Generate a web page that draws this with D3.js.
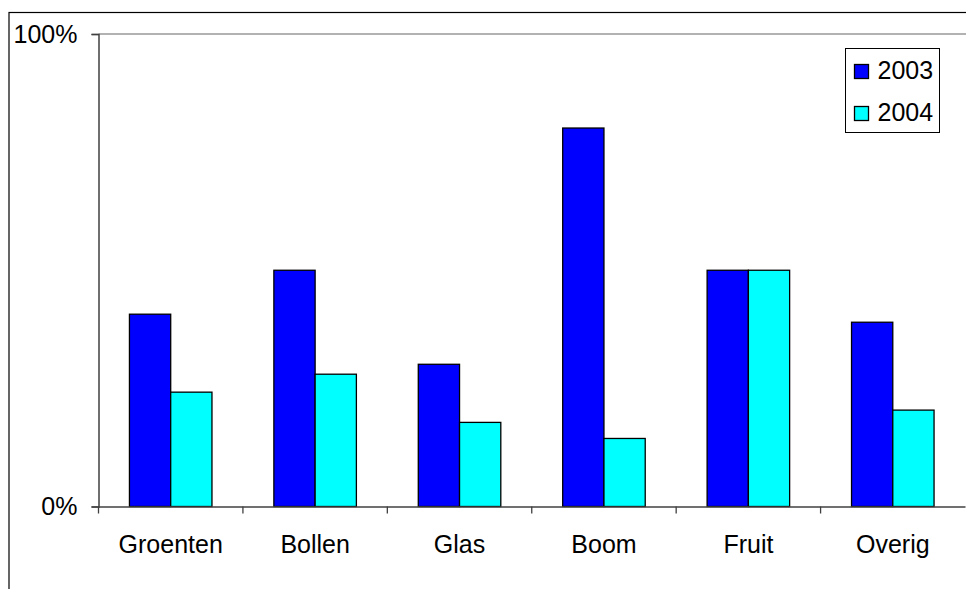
<!DOCTYPE html>
<html>
<head>
<meta charset="utf-8">
<script src="https://cdn.jsdelivr.net/npm/d3@7"></script>
<style>
  body { margin: 0; background: #fff; }
  svg { display: block; }
</style>
</head>
<body>
<div class="chart"></div>
<script>
// data
const categories = ['Groenten', 'Bollen', 'Glas', 'Boom', 'Fruit', 'Overig'];
const seriesNames = ['2003', '2004'];
const values2003 = [0.407, 0.50, 0.301, 0.801, 0.50, 0.390];
const values2004 = [0.242, 0.28, 0.178, 0.144, 0.50, 0.204];
const yTicks = [0, 1];

const width = 966;
const height = 589;
const plot = {left: 98.5, right: 965, top: 34, bottom: 506.5};
const colors = ['#0000ff', '#00ffff'];
const font = 'Arial, "Liberation Sans", sans-serif';

const rows = categories.map((c, i) => ({cat: c, vals: [values2003[i], values2004[i]]}));

const svg = d3.select('.chart').append('svg')
  .attr('width', width).attr('height', height);

// outer chart frame
svg.append('rect')
  .attr('x', 9).attr('y', 12.5)
  .attr('width', width + 20).attr('height', height + 20)
  .attr('fill', 'none').attr('stroke', '#000').attr('stroke-width', 1.2);

const x = d3.scaleBand().domain(categories).range([plot.left, plot.right]);
// excel gap width 150% -> bar = band / 3.5
const barW = x.bandwidth() / 3.5;
const xs = d3.scaleBand().domain(seriesNames)
  .range([barW * 0.75, barW * 2.75]);
const y = d3.scaleLinear().domain([0, 1]).range([plot.bottom, plot.top]);

// gridline at 100%
svg.append('line')
  .attr('x1', plot.left).attr('x2', width)
  .attr('y1', y(1)).attr('y2', y(1))
  .attr('stroke', '#999').attr('stroke-width', 1.5);

// bars
const groups = svg.selectAll('.grp').data(rows).enter()
  .append('g').attr('class', 'grp')
  .attr('transform', d => `translate(${x(d.cat)},0)`);
groups.selectAll('rect')
  .data(d => d.vals.map((v, j) => ({name: seriesNames[j], v: v, j: j})))
  .enter().append('rect')
  .attr('x', d => xs(d.name))
  .attr('width', xs.bandwidth())
  .attr('y', d => y(d.v))
  .attr('height', d => y(0) - y(d.v))
  .attr('fill', d => colors[d.j])
  .attr('stroke', '#000').attr('stroke-width', 1.3);

// y axis
const yAxis = svg.append('g')
  .attr('transform', `translate(${plot.left},0)`)
  .call(d3.axisLeft(y).tickValues(yTicks).tickFormat(d3.format('.0%'))
    .tickSize(7).tickPadding(14));
yAxis.select('.domain').attr('stroke', '#404040').attr('stroke-width', 1.5);
yAxis.selectAll('.tick line').attr('stroke', '#404040').attr('stroke-width', 1.3);
yAxis.selectAll('text').attr('font-family', font).attr('font-size', 25)
  .attr('fill', '#000');

// x axis
const xAxis = svg.append('g')
  .attr('transform', `translate(0,${plot.bottom})`)
  .call(d3.axisBottom(x).tickSize(0).tickPadding(29));
xAxis.select('.domain').attr('stroke', '#404040').attr('stroke-width', 1.5);
xAxis.selectAll('text').attr('font-family', font).attr('font-size', 25)
  .attr('fill', '#000');
// category boundary ticks
svg.selectAll('.xb').data(d3.range(categories.length)).enter()
  .append('line').attr('class', 'xb')
  .attr('x1', i => plot.left + i * x.step()).attr('x2', i => plot.left + i * x.step())
  .attr('y1', plot.bottom).attr('y2', plot.bottom + 7)
  .attr('stroke', '#404040').attr('stroke-width', 1.3);

// legend
const legend = svg.append('g').attr('transform', 'translate(845.5,48.5)');
legend.append('rect')
  .attr('width', 94).attr('height', 84)
  .attr('fill', '#fff').attr('stroke', '#000').attr('stroke-width', 1);
seriesNames.forEach((s, i) => {
  const row = legend.append('g').attr('transform', `translate(0,${16 + i * 42})`);
  row.append('rect')
    .attr('x', 9).attr('y', 0).attr('width', 14).attr('height', 14)
    .attr('fill', colors[i]).attr('stroke', '#000').attr('stroke-width', 1.3);
  row.append('text')
    .attr('x', 32).attr('y', 14.5)
    .attr('font-family', font).attr('font-size', 25)
    .text(s);
});
</script>
</body>
</html>
